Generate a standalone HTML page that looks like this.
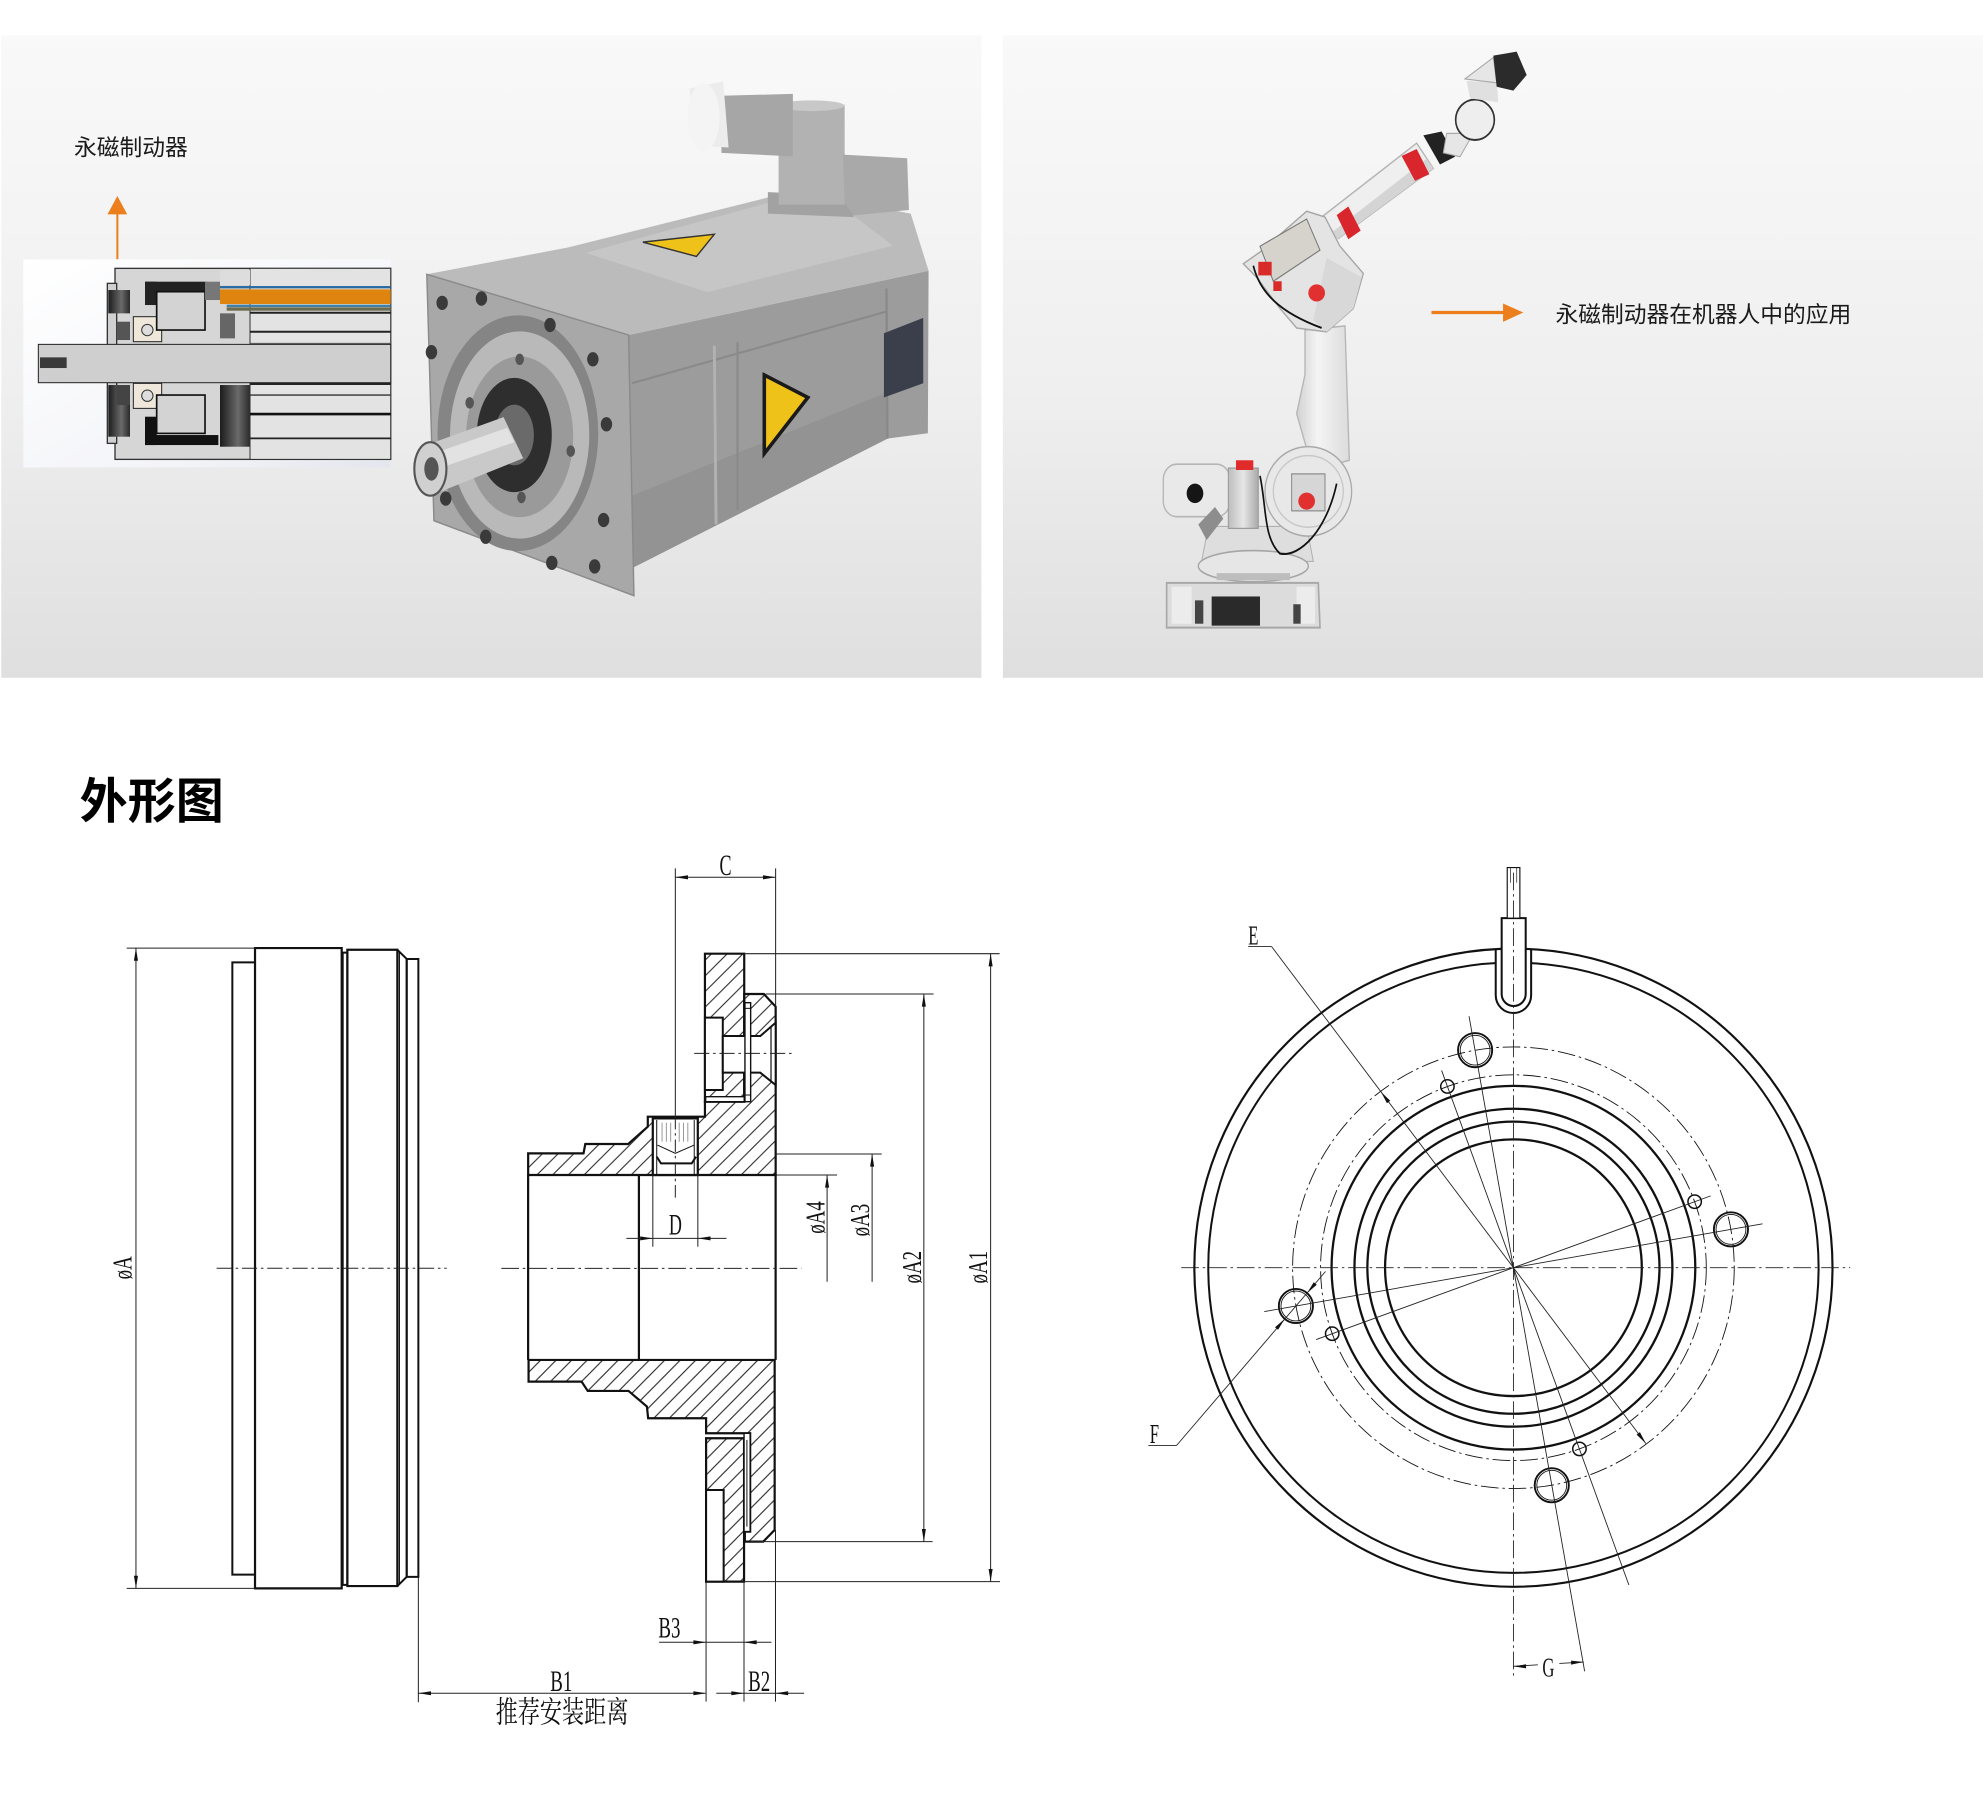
<!DOCTYPE html>
<html><head><meta charset="utf-8">
<style>
html,body{margin:0;padding:0;background:#fff;}
svg{display:block;}
.v *{vector-effect:non-scaling-stroke;}
.cad{font-family:"Liberation Serif","Noto Serif CJK SC",serif;fill:#111;}
.cn{font-family:"Liberation Sans","Noto Sans CJK SC",sans-serif;fill:#1a1a1a;}
</style></head>
<body>
<svg width="1983" height="1800" viewBox="0 0 1568 1423.3" preserveAspectRatio="none" xmlns="http://www.w3.org/2000/svg">
<defs>
<linearGradient id="bg" x1="0" y1="0" x2="0" y2="1"><stop offset="0" stop-color="#f9f9f9"/><stop offset="0.55" stop-color="#efefef"/><stop offset="1" stop-color="#dfdfdf"/></linearGradient>
<linearGradient id="insetBg" x1="0" y1="0" x2="1" y2="1"><stop offset="0" stop-color="#ffffff"/><stop offset="0.7" stop-color="#f3f4f8"/><stop offset="1" stop-color="#e3e6ee"/></linearGradient>
<linearGradient id="darkg" x1="0" y1="0" x2="1" y2="0"><stop offset="0" stop-color="#1c1c1c"/><stop offset="0.6" stop-color="#6a6a6a"/><stop offset="1" stop-color="#2a2a2a"/></linearGradient>
<linearGradient id="metal" x1="0" y1="0" x2="1" y2="0"><stop offset="0" stop-color="#bdbdbd"/><stop offset="0.5" stop-color="#e6e6e6"/><stop offset="1" stop-color="#a8a8a8"/></linearGradient>
<linearGradient id="armg" x1="0" y1="0" x2="1" y2="0"><stop offset="0" stop-color="#d2d2d2"/><stop offset="0.4" stop-color="#f4f4f4"/><stop offset="1" stop-color="#dcdcdc"/></linearGradient>
<pattern id="h4" patternUnits="userSpaceOnUse" width="44" height="47"><path d="M0,47 L44,0 M-4,4 L4,-4 M40,51 L48,43" stroke="#222" stroke-width="3" fill="none"/></pattern>
<pattern id="h5" patternUnits="userSpaceOnUse" width="38" height="47"><path d="M0,47 L38,0 M-4,5 L4,-5 M34,52 L42,42" stroke="#222" stroke-width="3" fill="none"/></pattern>
</defs>

<rect x="0" y="0" width="1568" height="1423.3" fill="#fff"/>

<!-- ===== TOP PANELS ===== -->
<rect x="1" y="28" width="775" height="508" fill="url(#bg)"/>
<rect x="793" y="28" width="775" height="508" fill="url(#bg)"/>

<text class="cn" x="58.5" y="123" font-size="18">永磁制动器</text>
<line x1="92.8" y1="167" x2="92.8" y2="205" stroke="#ec7f1c" stroke-width="1.6"/>
<polygon points="92.8,155 85,169.5 100.6,169.5" fill="#ec7f1c"/>

<!-- inset cross-section -->
<g transform="translate(15.81,197.7) scale(0.2636)">
 <rect x="10" y="28" width="1102" height="624" fill="url(#insetBg)"/>
 <rect x="285" y="55" width="827" height="573" fill="#d6d6d6" stroke="#333" stroke-width="4"/>
 <rect x="262" y="100" width="28" height="480" fill="#d0d0d0" stroke="#333" stroke-width="4"/>
 <rect x="265" y="120" width="65" height="70" fill="url(#darkg)"/>
 <rect x="290" y="215" width="40" height="55" fill="#555"/>
 <rect x="265" y="405" width="65" height="155" fill="url(#darkg)"/>
 <rect x="290" y="405" width="40" height="60" fill="#444"/>
 <rect x="340" y="200" width="85" height="75" fill="#efe7da" stroke="#222" stroke-width="3"/>
 <circle cx="382" cy="240" r="17" fill="#ddd" stroke="#333" stroke-width="3"/>
 <rect x="340" y="400" width="85" height="75" fill="#efe7da" stroke="#222" stroke-width="3"/>
 <circle cx="382" cy="437" r="17" fill="#ddd" stroke="#333" stroke-width="3"/>
 <rect x="375" y="95" width="185" height="30" fill="#222"/>
 <rect x="375" y="95" width="35" height="70" fill="#222"/>
 <rect x="410" y="125" width="145" height="115" fill="#d3d3d3" stroke="#111" stroke-width="5"/>
 <rect x="375" y="500" width="35" height="85" fill="#111"/>
 <rect x="375" y="555" width="220" height="30" fill="#111"/>
 <rect x="410" y="435" width="145" height="115" fill="#d3d3d3" stroke="#111" stroke-width="5"/>
 <rect x="555" y="95" width="45" height="55" fill="#777"/>
 <rect x="600" y="190" width="45" height="75" fill="#666"/>
 <rect x="600" y="405" width="90" height="185" fill="url(#darkg)"/>
 <rect x="690" y="55" width="422" height="573" fill="#e3e3e3" stroke="#333" stroke-width="3"/>
 <rect x="600" y="60" width="90" height="45" fill="#ddd"/>
 <rect x="600" y="108" width="512" height="7" fill="#2b6aa0"/>
 <rect x="600" y="118" width="512" height="44" fill="#df850f"/>
 <rect x="620" y="164" width="492" height="7" fill="#3f7fa8"/>
 <rect x="620" y="172" width="492" height="10" fill="#6b6b4e"/>
 <line x1="690" y1="188" x2="1112" y2="188" stroke="#222" stroke-width="6"/>
 <line x1="690" y1="245" x2="1112" y2="245" stroke="#222" stroke-width="6"/>
 <line x1="690" y1="280" x2="1112" y2="280" stroke="#555" stroke-width="3"/>
 <line x1="690" y1="402" x2="1112" y2="402" stroke="#222" stroke-width="6"/>
 <line x1="690" y1="435" x2="1112" y2="435" stroke="#333" stroke-width="4"/>
 <line x1="690" y1="492" x2="1112" y2="492" stroke="#111" stroke-width="8"/>
 <line x1="690" y1="565" x2="1112" y2="565" stroke="#222" stroke-width="5"/>
 <rect x="55" y="283" width="1057" height="115" fill="#cfcfcf" stroke="#222" stroke-width="3"/>
 <rect x="60" y="322" width="80" height="32" fill="#3a3a3a"/>
</g>

<!-- motor -->
<g transform="translate(316.3,47.44) scale(0.2824)">
 <path d="M640,770 L1480,590 L1478,1045 L1365,1060 L655,1420 Z" fill="#9c9c9c"/>
 <path d="M650,1220 L1365,930 L1365,1060 L655,1420 Z" fill="#939393"/>
 <path d="M75,600 L470,525 L1030,385 L1270,400 L1430,430 L1480,590 L640,770 Z" fill="#bbbbbb"/>
 <path d="M520,540 L1030,400 L1250,420 L1380,520 L860,650 Z" fill="#c6c6c6"/>
 <line x1="650" y1="905" x2="1360" y2="705" stroke="#8a8a8a" stroke-width="6"/>
 <line x1="880" y1="800" x2="885" y2="1300" stroke="#b2b2b2" stroke-width="8"/>
 <line x1="945" y1="790" x2="945" y2="1260" stroke="#8a8a8a" stroke-width="6"/>
 <line x1="1362" y1="640" x2="1365" y2="1060" stroke="#888" stroke-width="6"/>
 <path d="M75,600 L640,770 L655,1500 L95,1290 Z" fill="#a8a8a8" stroke="#8a8a8a" stroke-width="4"/>
 <ellipse cx="330" cy="1045" rx="225" ry="330" fill="#858585"/>
 <ellipse cx="335" cy="1050" rx="195" ry="290" fill="#b9b9b9"/>
 <ellipse cx="335" cy="1055" rx="150" ry="225" fill="#9a9a9a"/>
 <ellipse cx="320" cy="1050" rx="105" ry="160" fill="#2e2e2e"/>
 <ellipse cx="320" cy="1050" rx="55" ry="85" fill="#6a6a6a"/>
 <path d="M55,1085 L290,1000 L345,1115 L110,1210 Z" fill="#c9c9c9"/>
 <path d="M70,1110 L300,1030 L320,1070 L90,1150 Z" fill="#e2e2e2"/>
 <ellipse cx="85" cy="1145" rx="45" ry="75" fill="#d0d0d0" stroke="#555" stroke-width="6"/>
 <ellipse cx="88" cy="1145" rx="20" ry="33" fill="#555"/>
 <g fill="#3a3a3a">
  <ellipse cx="118" cy="680" rx="16" ry="20"/><ellipse cx="228" cy="668" rx="16" ry="20"/>
  <ellipse cx="420" cy="742" rx="16" ry="20"/><ellipse cx="88" cy="818" rx="16" ry="20"/>
  <ellipse cx="540" cy="838" rx="16" ry="20"/><ellipse cx="578" cy="1020" rx="16" ry="20"/>
  <ellipse cx="570" cy="1288" rx="16" ry="20"/><ellipse cx="425" cy="1408" rx="16" ry="20"/>
  <ellipse cx="545" cy="1418" rx="16" ry="20"/><ellipse cx="128" cy="1228" rx="16" ry="20"/>
  <ellipse cx="240" cy="1335" rx="16" ry="20"/>
 </g>
 <g fill="#555">
  <ellipse cx="335" cy="838" rx="12" ry="16"/><ellipse cx="195" cy="960" rx="12" ry="16"/>
  <ellipse cx="478" cy="1095" rx="12" ry="16"/><ellipse cx="340" cy="1225" rx="12" ry="16"/>
 </g>
 <path d="M680,510 L880,488 L830,550 Z" fill="#efc21a" stroke="#333" stroke-width="4"/>
 <path d="M1020,882 L1142,945 L1020,1102 Z" fill="#efc21a" stroke="#1a1a1a" stroke-width="10"/>
 <path d="M1355,765 L1465,722 L1465,905 L1355,945 Z" fill="#3b3f4c"/>
 <path d="M1030,370 L1265,380 L1270,440 L1030,430 Z" fill="#a2a2a2"/>
 <rect x="1060" y="125" width="185" height="280" fill="#b2b2b2"/>
 <ellipse cx="1152" cy="128" rx="92" ry="15" fill="#c8c8c8"/>
 <path d="M900,100 L1100,95 L1100,270 L900,260 Z" fill="#a6a6a6"/>
 <path d="M810,80 L905,60 L920,245 L830,240 Z" fill="#ececec"/>
 <ellipse cx="850" cy="160" rx="45" ry="95" fill="#f4f4f4"/>
 <path d="M1240,265 L1420,275 L1425,420 L1270,435 L1245,400 Z" fill="#a9a9a9"/>
</g>

<!-- robot -->
<g transform="translate(901.4,31.63) scale(0.2636,0.3077)">
 <path d="M80,1395 L535,1395 L540,1510 L80,1510 Z" fill="#dcdcdc" stroke="#a8a8a8" stroke-width="5"/>
 <rect x="95" y="1405" width="60" height="95" fill="#ececec"/>
 <rect x="470" y="1405" width="55" height="95" fill="#ececec"/>
 <rect x="215" y="1430" width="145" height="75" fill="#2a2a2a"/>
 <rect x="165" y="1440" width="25" height="60" fill="#444"/>
 <rect x="460" y="1450" width="22" height="50" fill="#444"/>
 <path d="M205,1250 L500,1250 L520,1340 L185,1340 Z" fill="#dedede" stroke="#b0b0b0" stroke-width="3"/>
 <ellipse cx="340" cy="1352" rx="165" ry="40" fill="#e6e6e6" stroke="#a5a5a5" stroke-width="4"/>
 <rect x="230" y="1370" width="220" height="18" fill="#bdbdbd"/>
 <rect x="70" y="1090" width="200" height="135" rx="40" fill="#e9e9e9" stroke="#b5b5b5" stroke-width="4"/>
 <ellipse cx="165" cy="1165" rx="25" ry="25" fill="#151515"/>
 <path d="M175,1245 L225,1200 L250,1230 L200,1285 Z" fill="#8d8d8d"/>
 <rect x="265" y="1100" width="90" height="155" fill="url(#metal)" stroke="#999" stroke-width="3"/>
 <rect x="288" y="1080" width="52" height="25" fill="#e02b2b"/>
 <path d="M495,745 L615,735 L628,1080 L585,1090 L500,1050 L470,960 L495,860 Z" fill="url(#armg)" stroke="#b5b5b5" stroke-width="4"/>
 <ellipse cx="505" cy="1160" rx="130" ry="115" fill="#e8e8e8" stroke="#aaaaaa" stroke-width="4"/>
 <ellipse cx="505" cy="1160" rx="105" ry="92" fill="none" stroke="#c8c8c8" stroke-width="4"/>
 <rect x="455" y="1115" width="100" height="95" fill="#d6d6d6" stroke="#888" stroke-width="3"/>
 <ellipse cx="500" cy="1185" rx="25" ry="22" fill="#e03030"/>
 <path d="M360,1120 C380,1200 370,1280 420,1320 C480,1330 560,1260 590,1140" fill="none" stroke="#111" stroke-width="5"/>
 <path d="M545,455 L830,265 L880,330 L595,510 Z" fill="#efefef" stroke="#b5b5b5" stroke-width="4"/>
 <path d="M575,495 L860,305 L880,330 L595,510 Z" fill="#d4d4d4"/>
 <path d="M590,450 L625,428 L662,490 L625,512 Z" fill="#d9262c"/>
 <path d="M785,298 L830,280 L868,345 L825,362 Z" fill="#d9262c"/>
 <path d="M310,575 L360,545 L500,440 L555,455 L600,530 L670,600 L640,690 L560,750 L470,740 L420,690 L350,610 Z" fill="#e4e4e4" stroke="#a8a8a8" stroke-width="4"/>
 <path d="M560,560 L665,610 L640,690 L560,750 L520,720 Z" fill="#d8d8d8"/>
 <path d="M360,530 L500,460 L540,540 L400,620 Z" fill="#d6d3cc" stroke="#777" stroke-width="3"/>
 <rect x="355" y="570" width="40" height="35" fill="#d92a2a"/>
 <rect x="400" y="620" width="25" height="25" fill="#d92a2a"/>
 <ellipse cx="530" cy="650" rx="25" ry="22" fill="#e03030"/>
 <path d="M340,580 C360,650 420,700 545,740" fill="none" stroke="#111" stroke-width="5"/>
 <path d="M850,245 L905,235 L945,300 L900,320 Z" fill="#222"/>
 <path d="M920,240 L1000,240 L960,300 L910,290 Z" fill="#e6e6e6" stroke="#aaa" stroke-width="3"/>
 <ellipse cx="1005" cy="205" rx="58" ry="52" fill="#eeeeee" stroke="#333" stroke-width="5"/>
 <path d="M980,105 L1070,110 L1075,160 L990,150 Z" fill="#e0e0e0"/>
 <path d="M975,100 L1060,45 L1070,110 Z" fill="#e6e6e6" stroke="#aaa" stroke-width="3"/>
 <path d="M1060,40 L1130,30 L1160,90 L1120,130 L1070,120 Z" fill="#2b2b2b"/>
</g>

<line x1="1131.9" y1="247.1" x2="1190" y2="247.1" stroke="#ec7f1c" stroke-width="2.6"/>
<polygon points="1188.5,240 1204.5,247.1 1188.5,254.5" fill="#ec7f1c"/>
<text class="cn" x="1230" y="255" font-size="18">永磁制动器在机器人中的应用</text>

<!-- title -->
<text class="cn" x="63" y="647" font-size="38" font-weight="bold" style="fill:#000">外形图</text>

<!-- ===== DRAWING: LEFT VIEW ===== -->
<g class="v" transform="translate(47.44,664.2) scale(0.2636,0.4545)" fill="none" stroke="#111">
 <rect x="517" y="213" width="68" height="1065" stroke-width="2"/>
 <rect x="585" y="188" width="260" height="1114" stroke-width="2.2"/>
 <rect x="848" y="196" width="14" height="1100" stroke-width="2"/>
 <rect x="862" y="191" width="150" height="1107" stroke-width="2.2"/>
 <path d="M1012,191 L1040,207 L1040,1282 L1012,1298" stroke-width="2"/>
 <line x1="1018" y1="194" x2="1018" y2="1295" stroke-width="1.2"/>
 <rect x="1040" y="207" width="35" height="1075" stroke-width="2"/>
</g>
<g fill="none" stroke="#222" stroke-width="0.8">
 <line x1="100.2" y1="749.7" x2="201.6" y2="749.7"/>
 <line x1="100.2" y1="1256" x2="201.6" y2="1256"/>
 <line x1="107.5" y1="749.7" x2="107.5" y2="1256"/>
 <line x1="171.3" y1="1002.8" x2="353.2" y2="1002.8" stroke-dasharray="12 3 2 3"/>
 <line x1="330.8" y1="1247" x2="330.8" y2="1346"/>
</g>
<g fill="#111">
 <polygon points="107.5,749.7 105.9,759.7 109.1,759.7"/>
 <polygon points="107.5,1256 105.9,1246 109.1,1246"/>
</g>
<text class="cad" font-size="22" text-anchor="middle" transform="translate(104,1002.5) rotate(-90) scale(0.68,1)">øA</text>

<!-- ===== DRAWING: MIDDLE VIEW UPPER ===== -->
<g class="v" transform="translate(379.5,664.2) scale(0.2824,0.2636)" stroke="#111">
 <path d="M630,341 H740 V785 H630 Z" fill="url(#h4)" stroke-width="2.2"/>
 <path d="M135,1005 L135,940 L290,940 L295,912 L415,912 L470,860 L470,830 L630,830 L630,785 L740,785 L740,462 L795,462 L828,500 L828,1005 Z" fill="url(#h4)" stroke-width="2.2"/>
 <rect x="630" y="533" width="50" height="217" fill="#fff" stroke-width="2"/>
 <path d="M680,588 H785 L828,548 V735 L785,698 H680 Z" fill="#fff" stroke-width="2"/>
 <line x1="815" y1="558" x2="815" y2="725" stroke-width="1.2"/>
 <rect x="742" y="488" width="16" height="297" fill="#fff" stroke-width="1.4"/>
 <line x1="742" y1="505" x2="758" y2="505" stroke-width="1"/>
 <line x1="742" y1="765" x2="758" y2="765" stroke-width="1"/>
 <rect x="632" y="770" width="108" height="15" fill="#fff" stroke-width="1.4"/>
 <rect x="484" y="835" width="126" height="170" fill="#fff" stroke-width="2.2"/>
 <line x1="495" y1="840" x2="495" y2="1005" stroke-width="1"/>
 <line x1="600" y1="840" x2="600" y2="1005" stroke-width="1"/>
 <g stroke="#999" stroke-width="1">
  <line x1="510" y1="848" x2="510" y2="905"/><line x1="522" y1="848" x2="522" y2="905"/>
  <line x1="534" y1="848" x2="534" y2="905"/><line x1="558" y1="848" x2="558" y2="905"/>
  <line x1="570" y1="848" x2="570" y2="905"/><line x1="582" y1="848" x2="582" y2="905"/>
 </g>
 <path d="M497,915 L547,940 L600,915" fill="none" stroke-width="1"/>
 <path d="M495,950 L507,970 H593 L605,950" fill="none" stroke-width="2"/>
</g>

<!-- middle connecting lines -->
<g stroke="#111" stroke-width="1.75">
 <line x1="417.6" y1="929.1" x2="417.6" y2="1075.3"/>
 <line x1="505.2" y1="929.1" x2="505.2" y2="1075.3"/>
 <line x1="613.3" y1="929.1" x2="613.3" y2="1075.3"/>
</g>

<!-- ===== DRAWING: MIDDLE VIEW LOWER ===== -->
<g class="v" transform="translate(316.3,1051.6) scale(0.3227,0.2636)" stroke="#111">
 <path d="M315,90 L918,90 L918,600 L890,635 L845,635 L845,605 L858,605 L858,310 L750,310 L750,265 L608,265 L605,230 L560,183 L460,183 L445,155 L315,155 Z" fill="url(#h5)" stroke-width="2.2"/>
 <path d="M750,325 H843 V755 H750 Z" fill="url(#h5)" stroke-width="2.2"/>
 <rect x="750" y="480" width="43" height="275" fill="#fff" stroke-width="2"/>
 <rect x="843" y="310" width="15" height="295" fill="#fff" stroke-width="1.4"/>
 <line x1="850" y1="330" x2="850" y2="590" stroke-width="1"/>
</g>

<!-- middle view dimension lines -->
<g fill="none" stroke="#222" stroke-width="0.8">
 <line x1="588.5" y1="754.1" x2="790.4" y2="754.1"/>
 <line x1="588.3" y1="1250.6" x2="790.7" y2="1250.6"/>
 <line x1="605.4" y1="786" x2="738.2" y2="786"/>
 <line x1="593.2" y1="1219" x2="737.4" y2="1219"/>
 <line x1="613.3" y1="912.5" x2="697.2" y2="912.5"/>
 <line x1="613.3" y1="929.1" x2="661.9" y2="929.1"/>
 <line x1="783.3" y1="754.1" x2="783.3" y2="1250.6"/>
 <line x1="730.5" y1="786" x2="730.5" y2="1219"/>
 <line x1="689.6" y1="912.5" x2="689.6" y2="1013.5"/>
 <line x1="654" y1="929.1" x2="654" y2="1013.5"/>
 <line x1="534" y1="686.6" x2="534" y2="883"/>
 <line x1="534" y1="883" x2="534" y2="948.9" stroke-dasharray="10 3 2 3"/>
 <line x1="613.3" y1="686.6" x2="613.3" y2="796"/>
 <line x1="534" y1="693.7" x2="613.3" y2="693.7"/>
 <line x1="548.9" y1="832.9" x2="628" y2="832.9" stroke-dasharray="12 3 2 3"/>
 <line x1="516.2" y1="929.1" x2="516.2" y2="985.8"/>
 <line x1="551.8" y1="929.1" x2="551.8" y2="985.8"/>
 <line x1="495.3" y1="979.2" x2="574.4" y2="979.2"/>
 <line x1="396.4" y1="1002.9" x2="633.7" y2="1002.9" stroke-dasharray="14 3 2 3"/>
 <line x1="558.3" y1="1250.6" x2="558.3" y2="1345.5"/>
 <line x1="588.3" y1="1250.6" x2="588.3" y2="1345.5"/>
 <line x1="613.2" y1="1209.8" x2="613.2" y2="1345.5"/>
 <line x1="521.2" y1="1298.6" x2="610" y2="1298.6"/>
 <line x1="330.8" y1="1338.9" x2="557.7" y2="1338.9"/>
 <line x1="566.4" y1="1338.9" x2="635.8" y2="1338.9"/>
</g>
<g fill="#111">
 <polygon points="534,693.7 544,692.1 544,695.3"/>
 <polygon points="613.3,693.7 603.3,692.1 603.3,695.3"/>
 <polygon points="783.3,754.1 781.7,764.1 784.9,764.1"/>
 <polygon points="783.3,1250.6 781.7,1240.6 784.9,1240.6"/>
 <polygon points="730.5,786 728.9,796 732.1,796"/>
 <polygon points="730.5,1219 728.9,1209 732.1,1209"/>
 <polygon points="689.6,912.5 688,922.5 691.2,922.5"/>
 <polygon points="654,929.1 652.4,939.1 655.6,939.1"/>
 <polygon points="516.2,979.2 506.2,977.6 506.2,980.8"/>
 <polygon points="551.8,979.2 561.8,977.6 561.8,980.8"/>
 <polygon points="558.3,1298.6 548.3,1297 548.3,1300.2"/>
 <polygon points="588.3,1298.6 598.3,1297 598.3,1300.2"/>
 <polygon points="330.8,1338.9 340.8,1337.3 340.8,1340.5"/>
 <polygon points="558.3,1338.9 548.3,1337.3 548.3,1340.5"/>
 <polygon points="588.3,1338.9 578.3,1337.3 578.3,1340.5"/>
 <polygon points="613.2,1338.9 623.2,1337.3 623.2,1340.5"/>
</g>
<text class="cad" font-size="23" text-anchor="middle" transform="translate(573.7,692) scale(0.62,1)">C</text>
<text class="cad" font-size="23" text-anchor="middle" transform="translate(534,976) scale(0.62,1)">D</text>
<text class="cad" font-size="23" text-anchor="middle" transform="translate(529.3,1295) scale(0.65,1)">B3</text>
<text class="cad" font-size="23" text-anchor="middle" transform="translate(443.8,1337) scale(0.65,1)">B1</text>
<text class="cad" font-size="23" text-anchor="middle" transform="translate(600.3,1337) scale(0.65,1)">B2</text>
<text font-family="'Liberation Serif','Noto Serif CJK SC',serif" fill="#111" font-size="24" text-anchor="middle" transform="translate(444.4,1362) scale(0.73,1)">推荐安装距离</text>
<text class="cad" font-size="22" text-anchor="middle" transform="translate(780.5,1002) rotate(-90) scale(0.68,1)">øA1</text>
<text class="cad" font-size="22" text-anchor="middle" transform="translate(728.3,1002) rotate(-90) scale(0.68,1)">øA2</text>
<text class="cad" font-size="22" text-anchor="middle" transform="translate(687.3,964.7) rotate(-90) scale(0.68,1)">øA3</text>
<text class="cad" font-size="22" text-anchor="middle" transform="translate(652,962.7) rotate(-90) scale(0.68,1)">øA4</text>

<!-- ===== DRAWING: CIRCLE VIEW ===== -->
<g fill="none" stroke="#111">
 <circle cx="1196.7" cy="1002.4" r="252.3" stroke-width="1.7"/>
 <circle cx="1196.7" cy="1002.4" r="241.3" stroke-width="1.6"/>
 <circle cx="1196.7" cy="1002.4" r="174.6" stroke-width="0.7" stroke-dasharray="14 3 2 3"/>
 <circle cx="1196.7" cy="1002.4" r="152.5" stroke-width="0.7" stroke-dasharray="14 3 2 3"/>
 <circle cx="1196.7" cy="1002.4" r="143.8" stroke-width="1.8"/>
 <circle cx="1196.7" cy="1002.4" r="125.7" stroke-width="1.8"/>
 <circle cx="1196.7" cy="1002.4" r="115.5" stroke-width="1.8"/>
 <circle cx="1196.7" cy="1002.4" r="101.5" stroke-width="1.8"/>
 <g stroke-width="1.5">
  <circle cx="1166.4" cy="830.4" r="13.5"/><circle cx="1368.7" cy="972.1" r="13.5"/>
  <circle cx="1227" cy="1174.4" r="13.5"/><circle cx="1024.7" cy="1032.7" r="13.5"/>
 </g>
 <g stroke-width="0.7">
  <circle cx="1166.4" cy="830.4" r="11.8"/><circle cx="1368.7" cy="972.1" r="11.8"/>
  <circle cx="1227" cy="1174.4" r="11.8"/><circle cx="1024.7" cy="1032.7" r="11.8"/>
 </g>
 <g stroke-width="1.2">
  <circle cx="1144.5" cy="859.1" r="5.3"/><circle cx="1340" cy="950.2" r="5.3"/>
  <circle cx="1248.9" cy="1145.7" r="5.3"/><circle cx="1053.4" cy="1054.6" r="5.3"/>
 </g>
</g>
<path d="M1182.7,751.5 L1182.7,787 A14,14 0 0 0 1210.7,787 L1210.7,751.5 Z" fill="#fff" stroke="none"/>
<path d="M1182.7,751 L1182.7,787 A14,14 0 0 0 1210.7,787 L1210.7,751" fill="none" stroke="#111" stroke-width="1.6"/>
<path d="M1187.4,726 L1187.4,786 A9.5,9.5 0 0 0 1206.4,786 L1206.4,726 Z" fill="#fff" stroke="#111" stroke-width="1.6"/>
<rect x="1191.8" y="686" width="10" height="40" fill="#fff" stroke="#111" stroke-width="0.9"/>
<g stroke="#333" stroke-width="0.6">
 <line x1="1194.3" y1="686" x2="1194.3" y2="698"/><line x1="1199.3" y1="686" x2="1199.3" y2="698"/>
</g>
<g fill="none" stroke="#222" stroke-width="0.7">
 <line x1="934" y1="1002.4" x2="1463" y2="1002.4" stroke-dasharray="14 3 2 3"/>
 <line x1="1196.7" y1="690" x2="1196.7" y2="1326" stroke-dasharray="14 3 2 3"/>
 <line x1="1161.6" y1="803.5" x2="1253" y2="1321.5"/>
 <line x1="999.7" y1="1037.1" x2="1393.7" y2="967.7"/>
 <line x1="1139.9" y1="846.4" x2="1288" y2="1253.3"/>
 <line x1="1040.7" y1="1059.2" x2="1352.7" y2="945.6"/>
 <line x1="987" y1="748.5" x2="1005.5" y2="748.5"/>
 <line x1="1005.5" y1="748.5" x2="1301.4" y2="1141.4"/>
 <line x1="908" y1="1143" x2="930.3" y2="1143"/>
 <line x1="930.3" y1="1143" x2="1048.1" y2="1005.4"/>
 <line x1="1196.7" y1="1317.6" x2="1216" y2="1316.4"/>
 <line x1="1233" y1="1315.3" x2="1252.3" y2="1314.2"/>
</g>
<g fill="#111">
 <polygon points="1092,863.4 1096.7,872.4 1099.3,870.4"/>
 <polygon points="1301.4,1141.4 1294.1,1134.4 1296.7,1132.4"/>
 <polygon points="1015.9,1042.9 1010.6,1051.5 1008.2,1049.5"/>
 <polygon points="1033.5,1022.5 1041.2,1015.9 1038.8,1013.9"/>
 <polygon points="1196.7,1317.6 1206.7,1316 1206.7,1319.2"/>
 <polygon points="1252.3,1314.2 1242.3,1313.1 1242.3,1316.3"/>
</g>
<text class="cad" font-size="22" text-anchor="middle" transform="translate(991,747) scale(0.6,1)">E</text>
<text class="cad" font-size="22" text-anchor="middle" transform="translate(912.8,1141) scale(0.6,1)">F</text>
<text class="cad" font-size="22" text-anchor="middle" transform="translate(1224.4,1325.5) scale(0.6,1)">G</text>
</svg>
</body></html>
